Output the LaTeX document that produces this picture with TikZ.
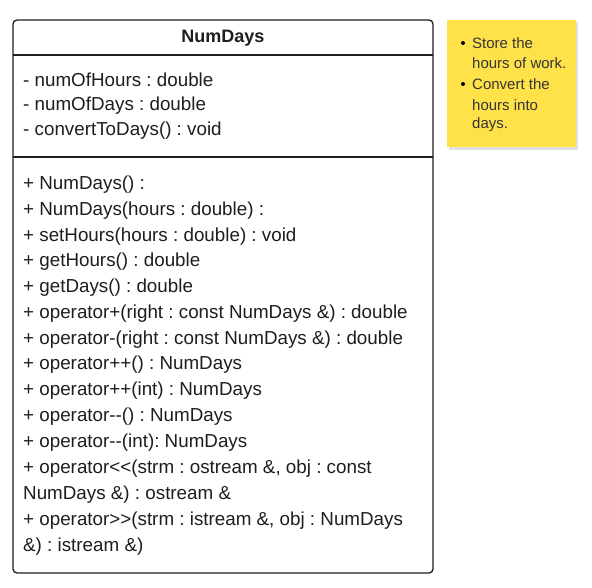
\documentclass[tikz,border=0pt]{standalone}
\usepackage{fontspec}
\setmainfont{Liberation Sans}[Ligatures=TeXOff]
\usepackage{xcolor}
\usetikzlibrary{positioning}
\definecolor{notefill}{HTML}{FFE14A}
\definecolor{inkgray}{HTML}{1E1E1E}
\tikzset{
  member/.style={anchor=west, inner sep=0pt, font=\fontsize{18.8}{20}\selectfont, text=inkgray},
  notetext/.style={anchor=west, inner sep=0pt, font=\fontsize{15}{16}\selectfont, text=inkgray!90},
  bullet/.style={circle, fill=black, inner sep=0pt, minimum size=4pt}
}

\begin{document}
\frenchspacing
\begin{tikzpicture}[x=1pt, y=-1pt]
  \useasboundingbox (0,0) rectangle (592,587);
  % class box
  \draw[line width=1.3pt, inkgray, rounded corners=4pt, fill=white] (13,20) rectangle (433,573);
  \draw[line width=1.3pt, inkgray] (13,55) -- (433,55);
  \draw[line width=1.3pt, inkgray] (13,157) -- (433,157);
  \node[font=\fontsize{18}{20}\selectfont\bfseries, text=inkgray] (title) at (223,38) {NumDays};
  % attributes
  \node[member] (attr1) at (23,80) {- numOfHours : double};
  \node[member] (attr2) at (23,106) {- numOfDays : double};
  \node[member] (attr3) at (23,131) {- convertToDays() : void};
  % operations
  \node[member] (op1) at (23,185) {+ NumDays() :};
  \node[member] (op2) at (23,211) {+ NumDays(hours : double) :};
  \node[member] (op3) at (23,237) {+ setHours(hours : double) : void};
  \node[member] (op4) at (23,262) {+ getHours() : double};
  \node[member] (op5) at (23,288) {+ getDays() : double};
  \node[member] (op6) at (23,314) {+ operator+(right : const NumDays \&) : double};
  \node[member] (op7) at (23,340) {+ operator-(right : const NumDays \&) : double};
  \node[member] (op8) at (23,365) {+ operator++() : NumDays};
  \node[member] (op9) at (23,391) {+ operator++(int) : NumDays};
  \node[member] (op10) at (23,417) {+ operator--() : NumDays};
  \node[member] (op11) at (23,443) {+ operator--(int): NumDays};
  \node[member] (op12) at (23,469) {+ operator<<(strm : ostream \&, obj : const};
  \node[member] (op12b) at (23,495) {NumDays \&) : ostream \&};
  \node[member] (op13) at (23,521) {+ operator>>(strm : istream \&, obj : NumDays};
  \node[member] (op13b) at (23,547) {\&) : istream \&)};
  % sticky note
  \fill[black!12] (449,22) rectangle (578,150);
  \fill[notefill] (447,20) rectangle (576,147);
  \node[bullet] (b1) at (463,43) {};
  \node[notetext] (n1) at (472,43) {Store the};
  \node[notetext] (n2) at (472,63) {hours of work.};
  \node[bullet] (b2) at (463,84) {};
  \node[notetext] (n3) at (472,84) {Convert the};
  \node[notetext] (n4) at (472,105) {hours into};
  \node[notetext] (n5) at (472,125) {days.};
\end{tikzpicture}
\end{document}
